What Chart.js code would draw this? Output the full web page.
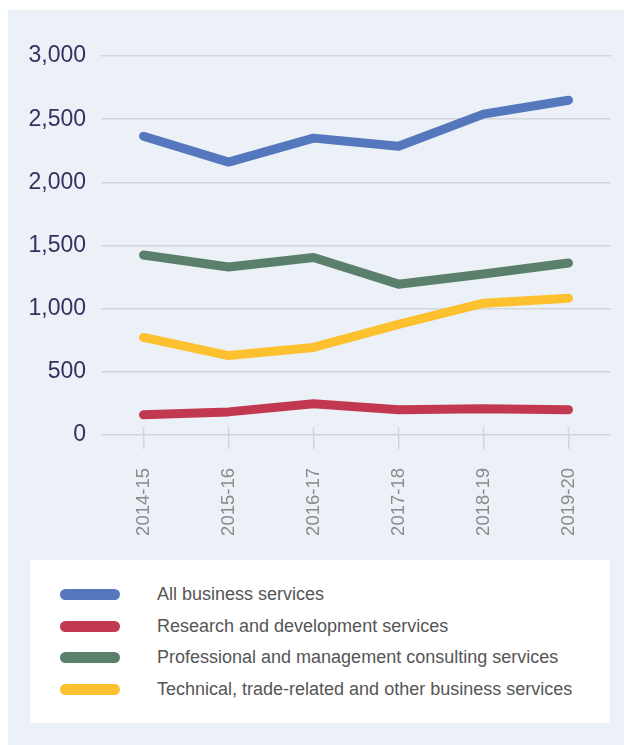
<!DOCTYPE html>
<html>
<head>
<meta charset="utf-8">
<script src="https://cdn.jsdelivr.net/npm/chart.js@4/dist/chart.umd.min.js"></script>
<style>
  body { margin: 0; background: #fff; width: 624px; height: 745px; overflow: hidden; font-family: "Liberation Sans", Arial, sans-serif; }
  #panel { position: absolute; left: 8px; top: 10px; width: 616px; height: 735px; background: #ecf0f7; }
  #chartBox { position: absolute; left: 0; top: 0; width: 616px; height: 540px; }
  #legend { position: absolute; left: 22px; top: 550px; width: 580px; height: 163px; background: #fff; }
  .item { position: absolute; left: 0; height: 20px; }
  .swatch { position: absolute; left: 30px; top: 5px; width: 60px; height: 11px; border-radius: 6px; }
  .label { position: absolute; left: 127px; top: 0; white-space: nowrap; font-size: 18px; color: #555; }
</style>
</head>
<body>
<div id="panel">
  <div id="chartBox"><canvas id="chart"></canvas></div>
  <div id="legend"></div>
</div>
<script>
const years = ['2014-15', '2015-16', '2016-17', '2017-18', '2018-19', '2019-20'];
const seriesNames = [
    'All business services',
    'Research and development services',
    'Professional and management consulting services',
    'Technical, trade-related and other business services'
];
const allBusiness = [2365, 2160, 2350, 2285, 2540, 2650];
const researchDev = [160, 183, 247, 199, 207, 200];
const professional = [1425, 1330, 1405, 1194, 1274, 1361];
const technical = [772, 629, 693, 876, 1043, 1083];
const seriesColors = ['#5577bd', '#c13850', '#5a7f6b', '#fdc12f'];
const yTicks = [0, 500, 1000, 1500, 2000, 2500, 3000];

const values = [allBusiness, researchDev, professional, technical];

const datasets = values.map((v, i) => ({
    label: seriesNames[i],
    data: v,
    borderColor: seriesColors[i],
    backgroundColor: seriesColors[i],
    borderWidth: 9,
    borderCapStyle: 'round',
    borderJoinStyle: 'round',
    pointRadius: 0,
    tension: 0
}));

// small tick stubs poking above the zero line, like the original
const tickStubs = {
    id: 'tickStubs',
    afterDraw(chart) {
        const ctx = chart.ctx, x = chart.scales.x, y0 = chart.scales.y.getPixelForValue(0);
        ctx.save();
        ctx.strokeStyle = '#d2d6dc';
        ctx.lineWidth = 1.5;
        years.forEach((_, i) => {
            const px = x.getPixelForTick(i);
            ctx.beginPath();
            ctx.moveTo(px, y0 - 8);
            ctx.lineTo(px, y0);
            ctx.stroke();
        });
        ctx.restore();
    }
};

new Chart(document.getElementById('chart'), {
    type: 'line',
    data: { labels: years, datasets: datasets },
    plugins: [tickStubs],
    options: {
        responsive: true,
        maintainAspectRatio: false,
        animation: false,
        layout: { padding: { top: 46, right: 13, left: 0, bottom: 0 } },
        plugins: {
            legend: { display: false },
            tooltip: { enabled: false }
        },
        scales: {
            x: {
                offset: true,
                border: { display: false },
                grid: {
                    drawOnChartArea: false,
                    drawTicks: true,
                    tickLength: 14,
                    color: '#d2d6dc',
                    lineWidth: 1.5,
                    offset: false
                },
                ticks: {
                    maxRotation: 90,
                    minRotation: 90,
                    padding: 19,
                    color: '#8a8a8a',
                    font: { family: 'Liberation Sans', size: 18.5 }
                },
                afterFit: function (scale) { scale.height = 115; }
            },
            y: {
                min: 0,
                max: 3000,
                border: { display: false },
                grid: { drawTicks: false, color: '#d2d6dc', lineWidth: 1.5 },
                afterBuildTicks: function (scale) {
                    scale.ticks = yTicks.map(v => ({ value: v }));
                },
                ticks: {
                    padding: 15,
                    color: '#33325f',
                    font: { family: 'Liberation Sans', size: 23 },
                    callback: v => v.toLocaleString('en-US')
                },
                afterFit: function (scale) { scale.width = 93; }
            }
        }
    }
});

const legend = document.getElementById('legend');
seriesNames.forEach((name, i) => {
    const row = document.createElement('div');
    row.className = 'item';
    row.style.top = (24 + i * 31.5) + 'px';
    row.innerHTML = '<div class="swatch" style="background:' + seriesColors[i] + '"></div>' +
        '<div class="label">' + name + '</div>';
    legend.appendChild(row);
});
</script>
</body>
</html>
